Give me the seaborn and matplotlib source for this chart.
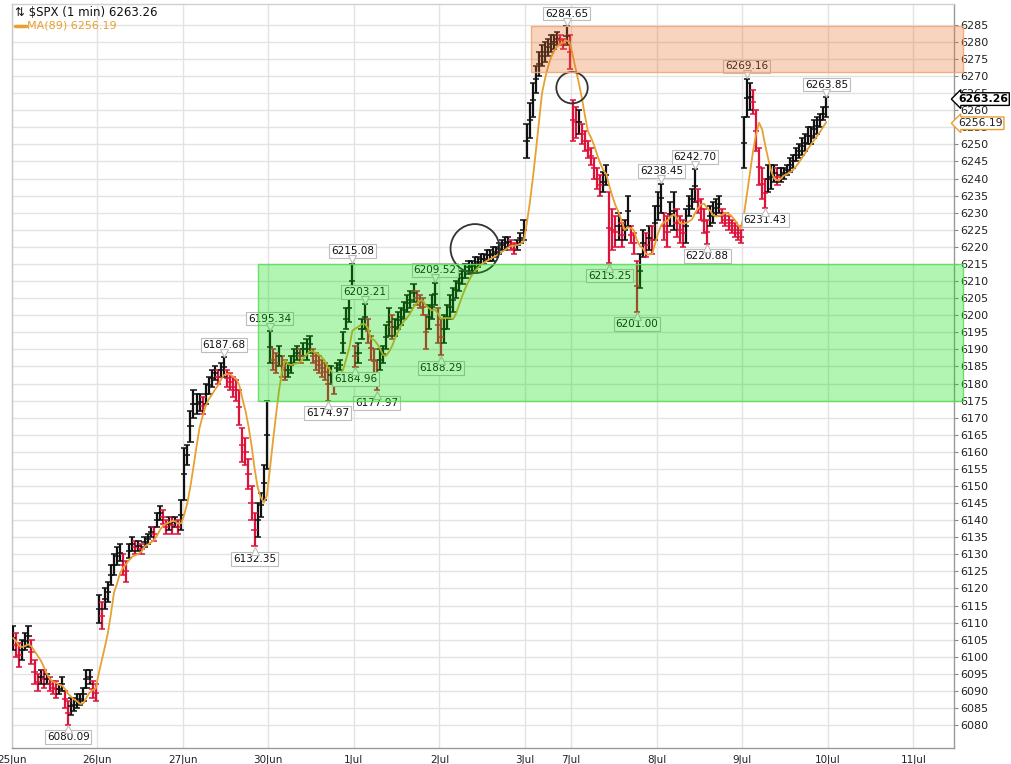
import numpy as np
import pandas as pd
import matplotlib
matplotlib.use("Agg")
import matplotlib.pyplot as plt
from matplotlib.patches import Rectangle
from matplotlib.transforms import offset_copy
import seaborn as sns

# ---------------- data ----------------
day_labels = ['25Jun', '26Jun', '27Jun', '30Jun', '1Jul', '2Jul', '3Jul',
              '7Jul', '8Jul', '9Jul', '10Jul', '11Jul']
session_minutes = [390, 390, 390, 390, 390, 390, 210, 390, 390, 390, 390, 390]

lo_25jun = [6102, 6100, 6097, 6099, 6102, 6103, 6098, 6092, 6090, 6092, 6091, 6092, 6090, 6089,
            6088, 6089, 6090, 6085, 6080.09, 6083, 6084, 6085, 6086, 6087, 6091, 6092, 6088, 6087]
hi_25jun = [6109, 6107, 6104, 6105, 6107, 6109, 6105, 6099, 6095, 6096, 6096, 6095, 6094, 6093,
            6093, 6092, 6094, 6090, 6087, 6088, 6088, 6089, 6089, 6091, 6096, 6096, 6093, 6092]
lo_26jun = [6110, 6108, 6114, 6116, 6121, 6124, 6127, 6128, 6124, 6122, 6129, 6131, 6130, 6131,
            6130, 6132, 6133, 6135, 6134, 6138, 6140, 6139, 6136, 6137, 6136, 6138, 6136, 6137]
hi_26jun = [6118, 6116, 6120, 6122, 6127, 6130, 6132, 6133, 6130, 6128, 6133, 6135, 6134, 6134,
            6133, 6135, 6136, 6138, 6138, 6142, 6144, 6143, 6140, 6141, 6141, 6141, 6140, 6146]
lo_27jun = [6146, 6156, 6163, 6170, 6171, 6172, 6171, 6174, 6177, 6179, 6181, 6180, 6182, 6182,
            6179, 6178, 6176, 6175, 6168, 6157, 6156, 6149, 6140, 6132.35, 6135, 6141, 6146, 6155]
hi_27jun = [6161, 6162, 6172, 6178, 6177, 6177, 6176, 6180, 6182, 6184, 6185, 6184, 6186, 6187.68,
            6184, 6183, 6182, 6181, 6178, 6167, 6164, 6158, 6150, 6142, 6145, 6148, 6156, 6175]
lo_30jun = [6186, 6184, 6183, 6185, 6182, 6181, 6182, 6183, 6186, 6187, 6186, 6188, 6187, 6189,
            6186, 6184, 6183, 6182, 6181, 6174.97, 6180, 6177, 6183, 6184, 6189, 6196, 6198, 6205]
hi_30jun = [6195.34, 6190, 6189, 6191, 6188, 6187, 6186, 6188, 6190, 6191, 6190, 6192, 6193, 6194,
            6190, 6189, 6188, 6187, 6186, 6185, 6185, 6183, 6186, 6187, 6195, 6202, 6206, 6215.08]
lo_1jul = [6184.96, 6186, 6193, 6196, 6192, 6187, 6183, 6177.97, 6184, 6186, 6190, 6194, 6193, 6194,
           6196, 6197, 6199, 6201, 6202, 6204, 6203, 6202, 6200, 6190, 6196, 6199, 6203, 6192]
hi_1jul = [6191, 6192, 6199, 6203.21, 6199, 6194, 6190, 6187, 6190, 6191, 6197, 6202, 6200, 6199,
           6201, 6202, 6204, 6206, 6207, 6209, 6207, 6206, 6205, 6200, 6203, 6206, 6209.52, 6202]
lo_2jul = [6188.29, 6192, 6196, 6199, 6201, 6205, 6207, 6209, 6211, 6212, 6213, 6213, 6214, 6215,
           6215, 6216, 6216, 6216, 6217, 6218, 6219, 6219, 6220, 6219, 6218, 6219, 6221, 6222]
hi_2jul = [6199, 6200, 6203, 6206, 6208, 6210, 6212, 6213, 6215, 6216, 6216, 6217, 6217, 6218,
           6218, 6219, 6219, 6220, 6220, 6221, 6222, 6223, 6223, 6222, 6221, 6222, 6224, 6228]
lo_3jul = [6246, 6252, 6258, 6265, 6270, 6273, 6274, 6276, 6277, 6278, 6279, 6279, 6278, 6279, 6272]
hi_3jul = [6256, 6262, 6268, 6273, 6277, 6279, 6280, 6281, 6282, 6282, 6283, 6282, 6281, 6284.65, 6282]
lo_7jul = [6251, 6252, 6253, 6250, 6248, 6246, 6244, 6240, 6237, 6235, 6236, 6238, 6215.25, 6219,
           6220, 6222, 6220, 6222, 6226, 6221, 6218, 6201.00, 6208, 6217, 6217, 6219, 6218, 6222]
hi_7jul = [6263, 6261, 6260, 6256, 6254, 6251, 6249, 6246, 6243, 6241, 6242, 6244, 6236, 6231,
           6229, 6230, 6227, 6228, 6235, 6226, 6224, 6216, 6218, 6225, 6224, 6226, 6226, 6232]
lo_8jul = [6228, 6230, 6222, 6220, 6226, 6225, 6223, 6221, 6220, 6221, 6229, 6231, 6233, 6230,
           6228, 6224, 6220.88, 6226, 6227, 6229, 6230, 6227, 6226, 6225, 6224, 6223, 6222, 6221]
hi_8jul = [6236, 6238.45, 6230, 6229, 6233, 6236, 6231, 6229, 6228, 6231, 6235, 6237, 6242.70, 6237,
           6234, 6231, 6228, 6232, 6233, 6234, 6235, 6231, 6230, 6229, 6228, 6227, 6226, 6225]
lo_9jul = [6243, 6258, 6260, 6259, 6248, 6238, 6234, 6231.43, 6236, 6237, 6239, 6238, 6239, 6240,
           6241, 6242, 6243, 6245, 6246, 6247, 6248, 6250, 6250, 6252, 6253, 6255, 6257, 6258]
hi_9jul = [6258, 6269.16, 6268, 6266, 6260, 6249, 6243, 6240, 6244, 6244, 6244, 6243, 6243, 6243,
           6244, 6246, 6247, 6249, 6250, 6252, 6253, 6255, 6255, 6257, 6258, 6259, 6261, 6263.85]

last_price = 6263.26
ma_period = 89
ma_last = 6256.19

# labelled swing points: (day, value, side)
swing_days = ['25Jun', '27Jun', '27Jun', '30Jun', '30Jun', '30Jun', '1Jul', '1Jul', '1Jul', '1Jul',
              '2Jul', '3Jul', '7Jul', '7Jul', '8Jul', '8Jul', '8Jul', '9Jul', '9Jul', '9Jul']
swing_values = [6080.09, 6187.68, 6132.35, 6195.34, 6174.97, 6215.08, 6184.96, 6203.21, 6177.97,
                6209.52, 6188.29, 6284.65, 6215.25, 6201.00, 6238.45, 6242.70, 6220.88, 6269.16,
                6231.43, 6263.85]
swing_sides = ['lo', 'hi', 'lo', 'hi', 'lo', 'hi', 'lo', 'hi', 'lo', 'hi',
               'lo', 'hi', 'lo', 'lo', 'hi', 'hi', 'lo', 'hi', 'lo', 'hi']

# ---------------- build table ----------------
day_lows = [lo_25jun, lo_26jun, lo_27jun, lo_30jun, lo_1jul, lo_2jul, lo_3jul, lo_7jul, lo_8jul, lo_9jul]
day_highs = [hi_25jun, hi_26jun, hi_27jun, hi_30jun, hi_1jul, hi_2jul, hi_3jul, hi_7jul, hi_8jul, hi_9jul]
day_starts = np.concatenate([[0], np.cumsum(session_minutes)])

rows = []
for d, (los, his) in enumerate(zip(day_lows, day_highs)):
    n = len(los)
    step = session_minutes[d] / n
    for i in range(n):
        rows.append(dict(day=day_labels[d], x=day_starts[d] + (i + 0.5) * step,
                         lo=los[i], hi=his[i]))
df = pd.DataFrame(rows)
df['mid'] = (df['lo'] + df['hi']) / 2
bar_minutes = session_minutes[0] / len(lo_25jun)
win = max(1, int(round(ma_period / bar_minutes)))
df['ma'] = df['mid'].rolling(win, min_periods=1).mean()
df['up'] = df['mid'] >= df['mid'].shift(1).fillna(df['mid'])

# ---------------- figure ----------------
sns.set_style("white")
plt.rcParams['font.family'] = ['DejaVu Sans']

W, H = 1012, 764
fig = plt.figure(figsize=(W / 100, H / 100), dpi=100)
ax_l, ax_r, ax_t, ax_b = 11.6, 954, 4, 748
ax = fig.add_axes([ax_l / W, 1 - ax_b / H, (ax_r - ax_l) / W, (ax_b - ax_t) / H])

x_max = day_starts[11] + (ax_r - 913.5) / 85.5 * 390
ax.set_xlim(0, x_max)
ax.set_ylim(6073.3, 6291.1)

RED = '#dc143c'
colors = np.where(df['up'], '#111111', RED)
ax.vlines(df['x'], df['lo'], df['hi'], colors=colors, lw=1.6, zorder=3)
for col in ['hi', 'lo', 'mid']:
    ax.scatter(df['x'], df[col], marker='_', s=20, c=colors, linewidths=1.1, zorder=3)

MA_COL = '#e8a030'
sns.lineplot(data=df, x='x', y='ma', color=MA_COL, lw=1.3, ax=ax, estimator=None,
             sort=False, zorder=4)
ax.set_xlabel('')
ax.set_ylabel('')

# grid / ticks
ax.set_xticks(day_starts[:len(day_labels)])
ax.set_xticklabels(day_labels)
ax.set_yticks(np.arange(6080, 6286, 5))
ax.yaxis.tick_right()
ax.grid(True, color='#e3e3e3', lw=1.0, zorder=0)
ax.set_axisbelow(True)
ax.tick_params(axis='y', direction='out', length=3, pad=1.5, labelsize=8,
               labelcolor='#222222', color='#888888', width=0.8)
ax.tick_params(axis='x', direction='out', length=3, pad=2, labelsize=7.5,
               labelcolor='#222222', color='#888888', width=0.8)
for side, col in [('left', '#c8c8c8'), ('top', '#d0d0d0'), ('right', '#999999'), ('bottom', '#999999')]:
    ax.spines[side].set_color(col)
    ax.spines[side].set_linewidth(1.0)

# swing labels
for day, val, side in zip(swing_days, swing_values, swing_sides):
    sub = df[df['day'] == day]
    col = 'hi' if side == 'hi' else 'lo'
    idx = (sub[col] - val).abs().idxmin()
    xv = df.loc[idx, 'x']
    sgn = 1 if side == 'hi' else -1
    tr_text = offset_copy(ax.transData, fig=fig, x=0, y=sgn * 12.5, units='dots')
    tr_ptr = offset_copy(ax.transData, fig=fig, x=0, y=sgn * 4.5, units='dots')
    ax.text(xv, val, f'{val:.2f}', transform=tr_text, ha='center', va='center',
            fontsize=7.5, color='#111111',
            bbox=dict(boxstyle='square,pad=0.18', fc='white', ec='#bdbdbd', lw=0.8), zorder=5)
    ax.plot([xv], [val], marker='v' if side == 'hi' else '^', ms=5.5, mfc='white',
            mec='#bdbdbd', mew=0.8, transform=tr_ptr, zorder=5.1)

# circles
circle_x = [day_starts[5] + 162, day_starts[7] + 4]
circle_y = [6219.5, 6266.6]
circle_d_px = [49, 31.4]
ax.scatter(circle_x, circle_y, s=[(d * 0.72) ** 2 for d in circle_d_px], facecolors='none',
           edgecolors='#333333', linewidths=1.3, zorder=5)

# zones
x_zone_end = day_starts[11] + (963 - 913.5) / 85.5 * 390
g_x0 = day_starts[2] + 344
ax.add_patch(Rectangle((g_x0, 6174.97), x_zone_end - g_x0, 6215.08 - 6174.97,
                       fc=(0.0, 0.87, 0.0, 0.30), ec=(0.35, 0.88, 0.35, 0.9), lw=1.0,
                       zorder=6, clip_on=False))
o_x0 = day_starts[6] + 25
ax.add_patch(Rectangle((o_x0, 6271.3), x_zone_end - o_x0, 6284.65 - 6271.3,
                       fc=(0.91, 0.44, 0.16, 0.30), ec=(0.95, 0.65, 0.45, 0.9), lw=1.0,
                       zorder=6, clip_on=False))

# right-side price tags
ax.annotate(f'{last_price:.2f}', xy=(1.0, last_price), xycoords=('axes fraction', 'data'),
            xytext=(4, 0), textcoords='offset pixels', ha='left', va='center',
            fontsize=7.8, fontweight='bold', color='black', annotation_clip=False,
            bbox=dict(boxstyle='larrow,pad=0.12', fc='white', ec='black', lw=1.0), zorder=7)
ax.annotate(f'{ma_last:.2f}', xy=(1.0, ma_last), xycoords=('axes fraction', 'data'),
            xytext=(4, 0), textcoords='offset pixels', ha='left', va='center',
            fontsize=7.8, color='#222222', annotation_clip=False,
            bbox=dict(boxstyle='larrow,pad=0.12', fc='white', ec=MA_COL, lw=1.0), zorder=7)

# header texts
fig.text(15 / W, 1 - 12 / H, f'\u21c5 $SPX (1 min) {last_price:.2f}', fontsize=8.5,
         color='#111111', ha='left', va='center')
fig.add_artist(plt.Line2D([15 / W, 26 / W], [1 - 26 / H, 1 - 26 / H], color=MA_COL, lw=2.5))
fig.text(27 / W, 1 - 26 / H, f'MA({ma_period}) {ma_last:.2f}', fontsize=8,
         color=MA_COL, ha='left', va='center')

fig.savefig('out.png', dpi=100)
